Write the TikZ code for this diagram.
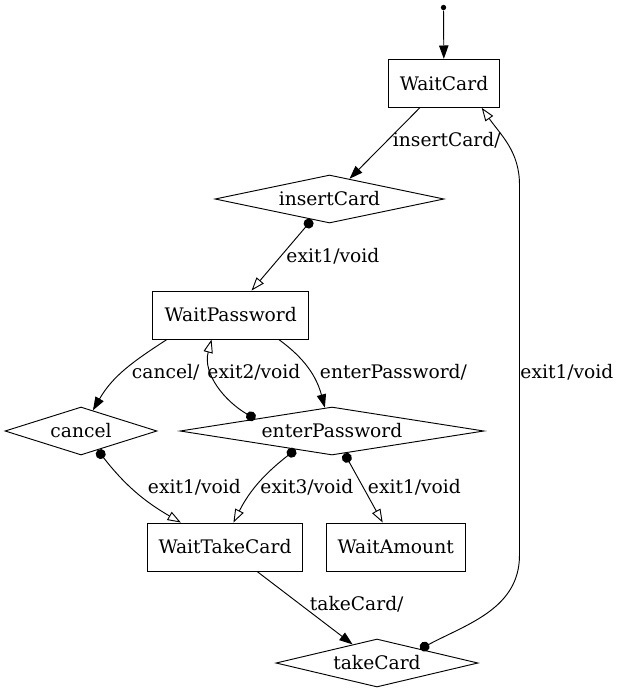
\documentclass[tikz,border=0pt]{standalone}
\usepackage{fontspec}
\setmainfont{DejaVu Serif}
\usetikzlibrary{arrows.meta,shapes.geometric,calc}
\newcommand{\pxunit}{0.75pt}
\newcommand{\nodeht}{36pt}
\tikzset{
    statesty/.style={draw,rectangle,minimum height=\nodeht,inner sep=0pt,anchor=center},
    choicesty/.style={draw,diamond,minimum height=\nodeht,inner sep=0pt,anchor=center},
    initsty/.style={fill,circle,inner sep=0pt,minimum size=4pt},
    lblsty/.style={inner sep=0pt,anchor=west},
    callsty/.style={-{Triangle[length=10pt,width=7pt]}},
    exitsty/.style={{Circle[length=7.5pt]}-{Triangle[open,length=10pt,width=7pt,fill=white]}},
}

\begin{document}
\begin{tikzpicture}[x=\pxunit,y=\pxunit,line width=0.7pt,font=\fontsize{14pt}{17pt}\selectfont]
  \useasboundingbox (0,0) rectangle (620,-693);
  % states and choice points
  \node[initsty] (init) at (443.5,-7.5) {};
  \node[statesty,minimum width=111*\pxunit] (WaitCard) at (444,-83.3) {WaitCard};
  \node[choicesty,minimum width=229*\pxunit,aspect=4.8] (insertCard) at (329.5,-199) {insertCard};
  \node[statesty,minimum width=156*\pxunit] (WaitPassword) at (230.7,-315) {WaitPassword};
  \node[choicesty,minimum width=152*\pxunit,aspect=3.2] (cancel) at (81,-431) {cancel};
  \node[choicesty,minimum width=304*\pxunit,aspect=6.4] (enterPassword) at (332,-431) {enterPassword};
  \node[statesty,minimum width=155*\pxunit] (WaitTakeCard) at (225,-547) {WaitTakeCard};
  \node[statesty,minimum width=139*\pxunit] (WaitAmount) at (395.7,-547) {WaitAmount};
  \node[choicesty,minimum width=202*\pxunit,aspect=4.2] (takeCard) at (377,-663) {takeCard};

  % transitions
  \draw[callsty] (init) -- (WaitCard);
  \draw[callsty] (WaitCard) -- (insertCard);
  \draw[exitsty] (insertCard) -- (WaitPassword);
  \draw[callsty] (WaitPassword.201) to[out=213,in=60] (cancel.60);
  \draw[exitsty] (enterPassword.171) to[out=150,in=255] (WaitPassword.232);
  \draw[callsty] (WaitPassword.333) to[out=-36,in=105] (enterPassword.107);
  \draw[exitsty] (cancel.-49) to[out=-52,in=150] (WaitTakeCard.151);
  \draw[exitsty] (enterPassword.207) to[out=218,in=63] (WaitTakeCard.71);
  \draw[exitsty] (enterPassword.-61) -- (WaitAmount.118);
  \draw[callsty] (WaitTakeCard) -- (takeCard);
  \coordinate (loopLow) at (519.5,-555);
  \coordinate (loopHigh) at (519.5,-185);
  \draw[exitsty] (takeCard.18) to[out=28,in=-90] (loopLow) -- (loopHigh) to[out=90,in=-55] (WaitCard.-33.5);

  % labels
  \node[lblsty] (lblInsert) at (392.5,-140) {insertCard/};
  \node[lblsty] (lblExitA) at (286,-256.5) {exit1/void};
  \node[lblsty] (lblCancel) at (131.5,-372) {cancel/};
  \node[lblsty] (lblExitB) at (207,-372) {exit2/void};
  \node[lblsty] (lblEnter) at (319.5,-372) {enterPassword/};
  \node[lblsty] (lblExitC) at (147.5,-487.5) {exit1/void};
  \node[lblsty] (lblExitD) at (260,-487.5) {exit3/void};
  \node[lblsty] (lblExitE) at (367.5,-487.5) {exit1/void};
  \node[lblsty] (lblTake) at (309.5,-604) {takeCard/};
  \node[lblsty] (lblExitF) at (520,-372) {exit1/void};
\end{tikzpicture}
\end{document}
